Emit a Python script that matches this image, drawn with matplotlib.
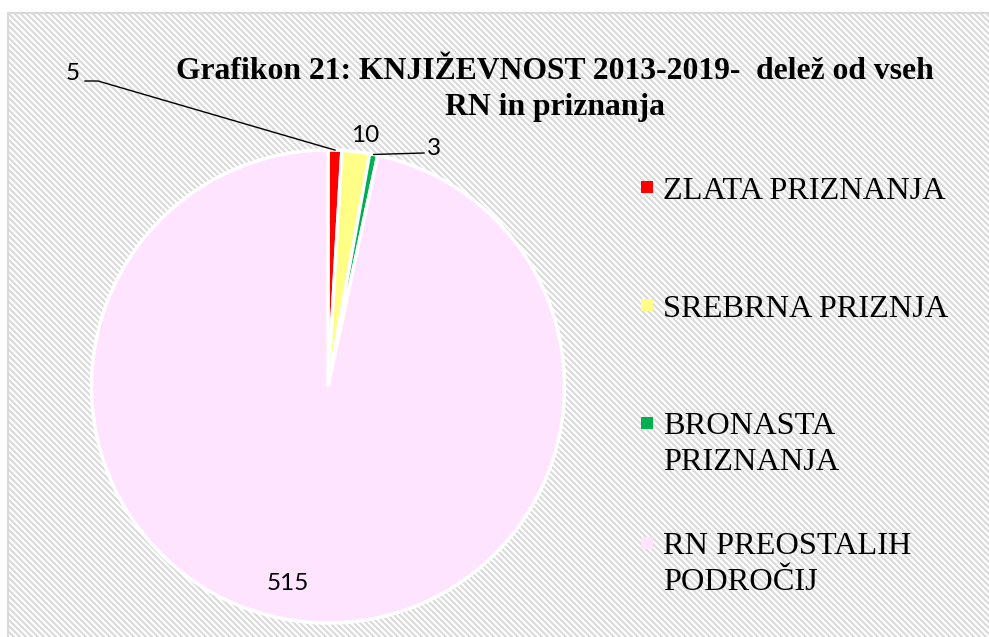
import numpy as np
import matplotlib
matplotlib.use("Agg")
import matplotlib.pyplot as plt
from matplotlib.collections import LineCollection
from matplotlib.patches import Rectangle

# ---- data ----
categories = ["ZLATA PRIZNANJA", "SREBRNA PRIZNJA", "BRONASTA\nPRIZNANJA", "RN PREOSTALIH\nPODROČIJ"]
values = [5, 10, 3, 515]
colors = ["#FF0000", "#FFFF88", "#00B050", "#FFE4FF"]
title = "Grafikon 21: KNJIŽEVNOST 2013-2019-  delež od vseh\nRN in priznanja"

W, H = 989, 637
fig = plt.figure(figsize=(W / 100, H / 100), dpi=100)
fig.patch.set_facecolor("white")

# ---- hatched background ----
x0, ytop = 8, 13
period = 6
segs = []
for c in np.arange(-W - 20, H + 20, period):
    # image coords: y_img = x + c  -> mpl y = H - y_img
    xa, xb = -10, W + 10
    segs.append([(xa / W, (H - (xa + c)) / H), (xb / W, (H - (xb + c)) / H)])
lc = LineCollection(segs, colors="#dadada", linewidths=1.5, transform=fig.transFigure, zorder=0)
clip = Rectangle((x0 / W, 0), (W - x0) / W, (H - ytop) / H, transform=fig.transFigure,
                 facecolor="none", edgecolor="none")
fig.add_artist(clip)
lc.set_clip_path(clip)
fig.add_artist(lc)
border = Rectangle((x0 / W, -0.01), (W - x0 + 10) / W, (H - ytop) / H + 0.01, transform=fig.transFigure,
                   facecolor="none", edgecolor="#d9d9d9", linewidth=1.5, zorder=1)
fig.add_artist(border)

# ---- pie ----
cx, cy, r = 328, 386.5, 236.5
ax = fig.add_axes([(cx - r) / W, (H - cy - r) / H, 2 * r / W, 2 * r / H])
ax.set_zorder(2)
ax.patch.set_alpha(0)
wedges, _ = ax.pie(values, colors=colors, startangle=90, counterclock=False,
                   wedgeprops=dict(edgecolor="white", linewidth=2.5))
ax.set_xlim(-1, 1)
ax.set_ylim(-1, 1)
ax.set_aspect("auto")
ax.axis("off")


def p2d(px, py):
    return ((px - cx) / r, (cy - py) / r)


def mid_point(i):
    w = wedges[i]
    a = np.deg2rad((w.theta1 + w.theta2) / 2)
    return np.cos(a), np.sin(a)


lab_font = dict(family="Lato", fontsize=17.5, color="black")
label_pos = [(72.5, 73.5), (365.5, 135.5), (433.5, 148.5), (288, 583.5)]
for i, v in enumerate(values):
    tx, ty = p2d(*label_pos[i])
    ax.text(tx, ty, str(v), ha="center", va="center", clip_on=False, **lab_font)

# leader lines
mx, my = mid_point(0)
a1 = p2d(85, 81)
a2 = p2d(98, 81)
ax.plot([a1[0], a2[0], mx], [a1[1], a2[1], my], color="black", lw=1.0, clip_on=False)
mx, my = mid_point(2)
b1 = p2d(424, 153)
ax.plot([mx, b1[0]], [my, b1[1]], color="black", lw=1.0, clip_on=False)

# ---- title ----
fig.text(555 / W, 1 - 57 / H, title, ha="center", va="top", family="Liberation Serif",
         fontweight="bold", fontsize=22.8, linespacing=1.33, multialignment="center", zorder=3)

# ---- legend ----
marker_y = [187, 305, 423, 543]
for col, lab, my_ in zip(colors, categories, marker_y):
    fig.add_artist(Rectangle((641 / W, (H - my_ - 6) / H), 12 / W, 12 / H, transform=fig.transFigure,
                             facecolor=col, edgecolor="none", zorder=3))
    if "\n" in lab:
        fig.text(663 / W, (H - my_ + 11) / H, lab, ha="left", va="top", family="Liberation Serif",
                 fontsize=23.3, linespacing=1.33, zorder=3)
    else:
        fig.text(663 / W, (H - my_ - 1) / H, lab, ha="left", va="center_baseline", family="Liberation Serif",
                 fontsize=23.3, zorder=3)

fig.savefig("out.png", dpi=100)
